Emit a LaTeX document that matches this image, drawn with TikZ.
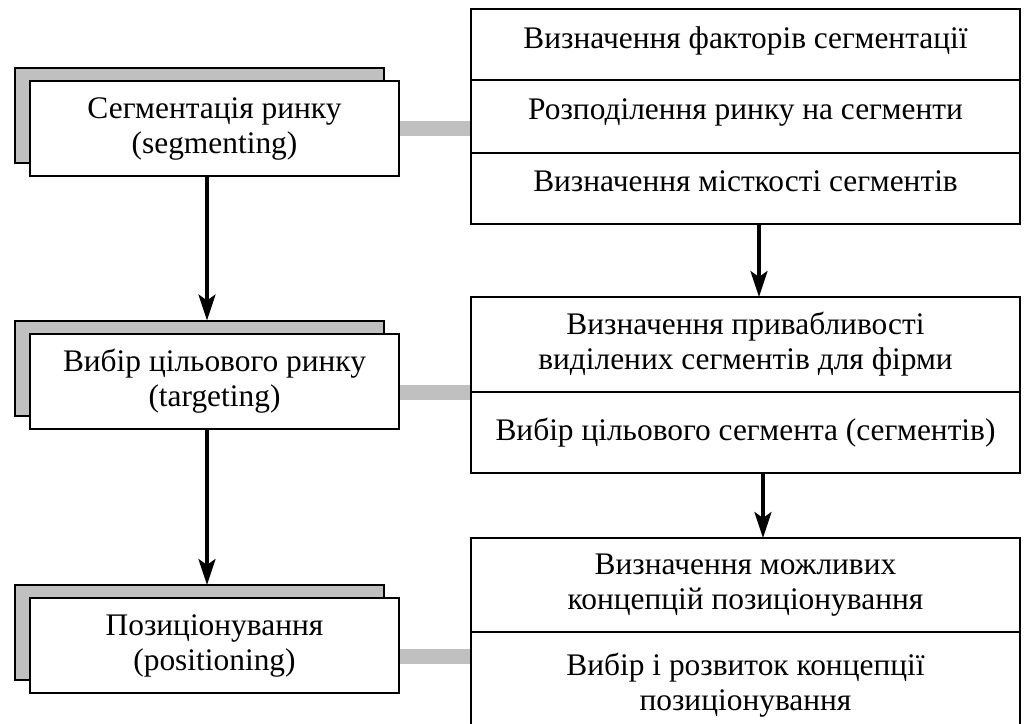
\documentclass[tikz,border=0pt]{standalone}
\usepackage{fontspec}
\setmainfont{Liberation Serif}
\usetikzlibrary{arrows.meta, positioning, backgrounds}
\definecolor{shadegray}{RGB}{192,192,192}

\begin{document}
\begin{tikzpicture}[
    x=0.5pt, y=-0.5pt,
    font=\fontsize{15.7}{17.5}\selectfont,
    stage/.style={
      draw=black, line width=1pt, fill=white,
      minimum width=184.5pt, minimum height=47.5pt,
      align=center, inner sep=0pt, outer sep=0pt
    },
    stageback/.style={stage, fill=shadegray},
    task/.style={
      draw=black, line width=1pt,
      minimum width=274.5pt,
      align=center, inner sep=0pt, outer sep=0pt
    },
    taskrow/.style={task, text depth=7pt},
    arr/.style={-{Stealth[length=13pt, width=8.5pt, inset=3pt]}, line width=1.6pt},
    link/.style={shadegray, line width=7.5pt}
  ]
  \clip (0,0) rectangle (1025,724);
  \node[taskrow, minimum height=35.5pt] (fac) at (745.5,44.5) {Визначення факторів сегментації};
  \node[taskrow, minimum height=36.5pt, below=0pt of fac] (div) {Розподілення ринку на сегменти};
  \node[taskrow, minimum height=35.5pt, below=0pt of div] (cap) {Визначення місткості сегментів};
  \node[task, minimum height=47.5pt, below=36.5pt of cap] (attr) {Визначення привабливості\\виділених сегментів для фірми};
  \node[task, minimum height=40.5pt, below=0pt of attr] (choice) {Вибір цільового сегмента (сегментів)};
  \node[task, minimum height=47pt, below=32.5pt of choice] (conc) {Визначення можливих\\концепцій позиціонування};
  \node[task, minimum height=53pt, below=0pt of conc] (dev) {Вибір і розвиток концепції\\позиціонування};

  \node[stageback] (segb) at (199.5,115.5) {};
  \node[stage] (seg) at ([shift={(7.5pt,-6.5pt)}]segb.center) {Сегментація ринку\\(segmenting)};
  \node[stageback] (tgtb) at (199.5,368) {};
  \node[stage] (tgt) at ([shift={(7.5pt,-6.5pt)}]tgtb.center) {Вибір цільового ринку\\(targeting)};
  \node[stageback] (posb) at (199.5,632.5) {};
  \node[stage] (pos) at ([shift={(7.5pt,-6.5pt)}]posb.center) {Позиціонування\\(positioning)};

  \draw[arr] ([xshift=-3.75pt]seg.south) -- ([xshift=-3.75pt]seg.south |- tgtb.north);
  \draw[arr] ([xshift=-3.75pt]tgt.south) -- ([xshift=-3.75pt]tgt.south |- posb.north);
  \draw[arr] ([xshift=6.75pt]cap.south) -- ([xshift=6.75pt]attr.north);
  \draw[arr] ([xshift=8.75pt]choice.south) -- ([xshift=8.75pt]conc.north);

  \begin{scope}[on background layer]
    \draw[link] (seg.east) -- (seg.east -| div.west);
    \draw[link] ([yshift=-5.75pt]tgt.east) -- ([yshift=-5.75pt]tgt.east -| attr.west);
    \draw[link] ([yshift=-5.25pt]pos.east) -- ([yshift=-5.25pt]pos.east -| dev.west);
  \end{scope}
\end{tikzpicture}
\end{document}
